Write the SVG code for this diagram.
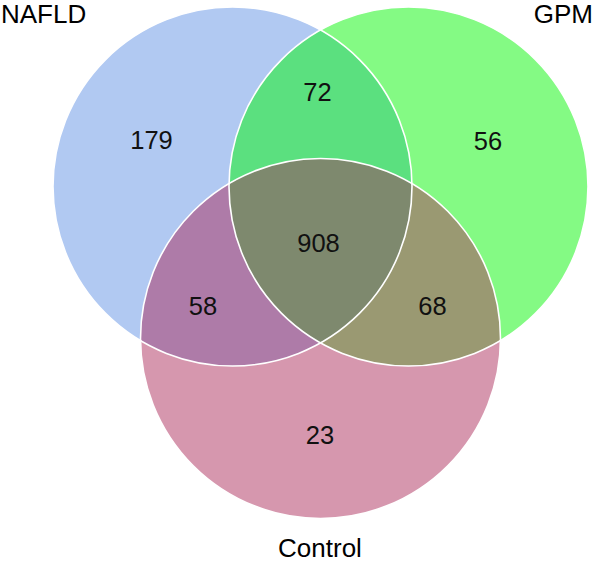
<svg xmlns="http://www.w3.org/2000/svg" width="596" height="563" viewBox="0 0 596 563">
<style>
.lbl{font-family:"Liberation Sans",Arial,sans-serif;font-size:26px;fill:#000}
.num{font-family:"Liberation Sans",Arial,sans-serif;font-size:25.5px;fill:#111;text-anchor:middle}
.edge{fill:none;stroke:#fff;stroke-width:1.6}
</style>
<defs>
<clipPath id="cA"><circle cx="232.5" cy="186.5" r="179.5"/></clipPath>
<clipPath id="cB"><circle cx="408.5" cy="186.5" r="179.5"/></clipPath>
<clipPath id="cC"><circle cx="320.5" cy="338.5" r="180"/></clipPath>
</defs>
<rect width="596" height="563" fill="#fff"/>
<g id="nafld">
<circle cx="232.5" cy="186.5" r="179.5" fill="#b1c9f2"/>
</g>
<g id="gpm">
<circle cx="408.5" cy="186.5" r="179.5" fill="#84fa84"/>
</g>
<g id="control">
<circle cx="320.5" cy="338.5" r="180" fill="#d697ae"/>
</g>
<g id="overlaps">
<g clip-path="url(#cA)"><circle cx="408.5" cy="186.5" r="179.5" fill="#5be07f"/></g>
<g clip-path="url(#cA)"><circle cx="320.5" cy="338.5" r="180" fill="#ae7ba8"/></g>
<g clip-path="url(#cB)"><circle cx="320.5" cy="338.5" r="180" fill="#9a9972"/></g>
<g clip-path="url(#cA)"><g clip-path="url(#cB)"><circle cx="320.5" cy="338.5" r="180" fill="#7e896e"/></g></g>
</g>
<g id="outlines">
<circle class="edge" cx="232.5" cy="186.5" r="179.5"/>
<circle class="edge" cx="408.5" cy="186.5" r="179.5"/>
<circle class="edge" cx="320.5" cy="338.5" r="180"/>
</g>
<g id="labels">
<text class="lbl" x="1" y="23">NAFLD</text>
<text class="lbl" x="593" y="23" text-anchor="end">GPM</text>
<text class="lbl" x="320" y="557" text-anchor="middle">Control</text>
</g>
<g id="counts">
<text class="num" x="151.5" y="149">179</text>
<text class="num" x="317.5" y="101">72</text>
<text class="num" x="488" y="150">56</text>
<text class="num" x="318.5" y="252">908</text>
<text class="num" x="203" y="315">58</text>
<text class="num" x="432.5" y="315">68</text>
<text class="num" x="320" y="444">23</text>
</g>
</svg>
